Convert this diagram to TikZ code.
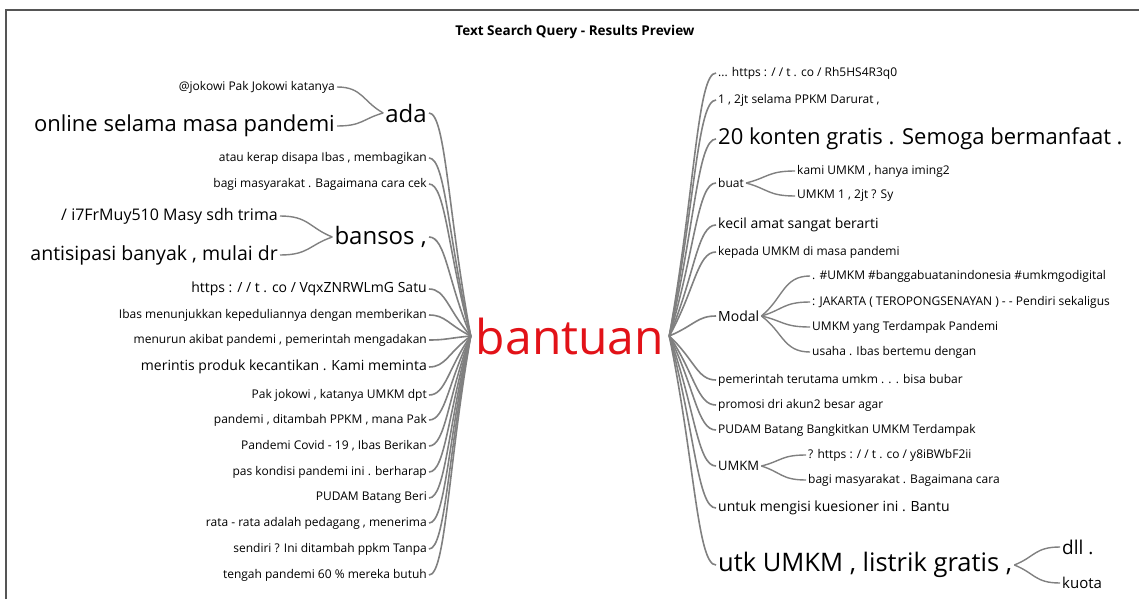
\documentclass[tikz,border=0pt]{standalone}
\usepackage{fontspec}
\setmainfont{Open Sans}
\usetikzlibrary{positioning,calc}
\definecolor{lgrey}{RGB}{128,128,128}
\definecolor{fgrey}{RGB}{85,85,85}
\definecolor{qred}{RGB}{226,18,24}
\tikzstyle{word} = [inner sep=2pt, text=black, font=\fontsize{12}{14}\selectfont]
\tikzstyle{midword} = [word, font=\fontsize{14}{16}\selectfont]
\tikzstyle{medword} = [word, font=\fontsize{16}{18}\selectfont]
\tikzstyle{bigword} = [word, font=\fontsize{22}{25}\selectfont]
\tikzstyle{hugeword} = [word, font=\fontsize{24}{27}\selectfont]
\tikzstyle{limb} = [draw=lgrey, line width=1.6pt,
    to path={.. controls ($(\tikztostart)!0.4!(\tikztostart -| \tikztotarget)$)
    and ($(\tikztotarget)!0.55!(\tikztostart)$) .. (\tikztotarget)}]
\tikzstyle{twig} = [draw=lgrey, line width=1.4pt,
    to path={.. controls ($(\tikztostart)!0.55!(\tikztostart -| \tikztotarget)$)
    and ($(\tikztotarget)!0.45!(\tikztostart)$) .. (\tikztotarget)}]

\begin{document}
\begin{tikzpicture}[x=1pt,y=-1pt]
\useasboundingbox (0,0) rectangle (1139,599);
\draw[fgrey, line width=1.5pt] (6,599) -- (6,10) -- (1139,10);
\node (title) at (575,32) [font=\bfseries\fontsize{13.5}{15}\selectfont] {Text Search Query - Results Preview};

\node (bantuan) at (570,336) [inner sep=5pt, text=qred, font=\fontsize{48}{52}\selectfont] {bantuan};

% left side
\node (ada) at (429,113) [hugeword, anchor=east] {ada};
\node (jokowi) at (337,87) [word, anchor=east] {@jokowi Pak Jokowi katanya};
\node (online) at (337,126) [bigword, anchor=east] {online selama masa pandemi};
\node (atau) at (429,158) [word, anchor=east] {atau kerap disapa Ibas , membagikan};
\node (cek) at (429,184) [word, anchor=east] {bagi masyarakat . Bagaimana cara cek};
\node (bansos) at (429,237) [hugeword, anchor=east] {bansos ,};
\node (trima) at (280,216) [medword, anchor=east] {/ i7FrMuy510 Masy sdh trima};
\node (mulai) at (280,255) [word, font=\fontsize{19.5}{22}\selectfont, anchor=east] {antisipasi banyak , mulai dr};
\node (satu) at (429,289) [midword, anchor=east] {https : / / t . co / VqxZNRWLmG Satu};
\node (ibas) at (429,315) [word, anchor=east] {Ibas menunjukkan kepeduliannya dengan memberikan};
\node (menurun) at (429,340) [word, anchor=east] {menurun akibat pandemi , pemerintah mengadakan};
\node (merintis) at (429,367) [midword, anchor=east] {merintis produk kecantikan . Kami meminta};
\node (pakjokowi) at (429,395) [word, anchor=east] {Pak jokowi , katanya UMKM dpt};
\node (ditambah) at (429,420) [word, anchor=east] {pandemi , ditambah PPKM , mana Pak};
\node (covid) at (429,446) [word, anchor=east] {Pandemi Covid - 19 , Ibas Berikan};
\node (berharap) at (429,472) [word, anchor=east] {pas kondisi pandemi ini . berharap};
\node (beri) at (429,498) [word, anchor=east] {PUDAM Batang Beri};
\node (rata) at (429,523) [word, anchor=east] {rata - rata adalah pedagang , menerima};
\node (sendiri) at (429,549) [word, anchor=east] {sendiri ? Ini ditambah ppkm Tanpa};
\node (tengah) at (429,575) [word, anchor=east] {tengah pandemi 60 \% mereka butuh};

% right side
\node (rh) at (716,73) [word, anchor=west] {... https : / / t . co / Rh5HS4R3q0};
\node (darurat) at (716,100) [word, anchor=west] {1 , 2jt selama PPKM Darurat ,};
\node (konten) at (716,139) [bigword, anchor=west] {20 konten gratis . Semoga bermanfaat .};
\node (buat) at (716,183) [word, anchor=west] {buat};
\node (iming) at (795,171) [word, anchor=west] {kami UMKM , hanya iming2};
\node (sy) at (795,196) [word, anchor=west] {UMKM 1 , 2jt ? Sy};
\node (kecil) at (716,225) [midword, anchor=west] {kecil amat sangat berarti};
\node (kepada) at (716,252) [word, anchor=west] {kepada UMKM di masa pandemi};
\node (modal) at (716,316) [midword, anchor=west] {Modal};
\node (digital) at (810,276) [word, anchor=west] {. \#UMKM \#banggabuatanindonesia \#umkmgodigital};
\node (jakarta) at (810,302) [word, anchor=west] {: JAKARTA ( TEROPONGSENAYAN ) - - Pendiri sekaligus};
\node (terdampak) at (810,327) [word, anchor=west] {UMKM yang Terdampak Pandemi};
\node (usaha) at (810,352) [word, anchor=west] {usaha . Ibas bertemu dengan};
\node (bubar) at (716,380) [word, anchor=west] {pemerintah terutama umkm . . . bisa bubar};
\node (promosi) at (716,405) [word, anchor=west] {promosi dri akun2 besar agar};
\node (bangkitkan) at (716,430) [word, anchor=west] {PUDAM Batang Bangkitkan UMKM Terdampak};
\node (umkm) at (716,466) [word, font=\fontsize{13}{15}\selectfont, anchor=west] {UMKM};
\node (y8) at (806,455) [word, anchor=west] {? https : / / t . co / y8iBWbF2ii};
\node (cara) at (806,480) [word, anchor=west] {bagi masyarakat . Bagaimana cara};
\node (bantu) at (716,508) [midword, anchor=west] {untuk mengisi kuesioner ini . Bantu};
\node (listrik) at (716,565) [word, font=\fontsize{25.5}{28}\selectfont, anchor=west] {utk UMKM , listrik gratis ,};
\node (dll) at (1060,547) [word, font=\fontsize{19}{21}\selectfont, anchor=west] {dll .};
\node (kuota) at (1060,583) [midword, font=\fontsize{15}{17}\selectfont, anchor=west] {kuota};

\draw[twig] (jokowi.east) to (ada.west);
\draw[twig] (online.east) to (ada.west);
\draw[twig] (trima.east) to (bansos.west);
\draw[twig] (mulai.east) to (bansos.west);
\draw[twig] (iming.west) to (buat.east);
\draw[twig] (sy.west) to (buat.east);
\draw[twig] (digital.west) to (modal.east);
\draw[twig] (jakarta.west) to (modal.east);
\draw[twig] (terdampak.west) to (modal.east);
\draw[twig] (usaha.west) to (modal.east);
\draw[twig] (y8.west) to (umkm.east);
\draw[twig] (cara.west) to (umkm.east);
\draw[twig] (dll.west) to (listrik.east);
\draw[twig] (kuota.west) to (listrik.east);

\draw[limb] (ada.east) to (bantuan.west);
\draw[limb] (atau.east) to (bantuan.west);
\draw[limb] (cek.east) to (bantuan.west);
\draw[limb] (bansos.east) to (bantuan.west);
\draw[limb] (satu.east) to (bantuan.west);
\draw[limb] (ibas.east) to (bantuan.west);
\draw[limb] (menurun.east) to (bantuan.west);
\draw[limb] (merintis.east) to (bantuan.west);
\draw[limb] (pakjokowi.east) to (bantuan.west);
\draw[limb] (ditambah.east) to (bantuan.west);
\draw[limb] (covid.east) to (bantuan.west);
\draw[limb] (berharap.east) to (bantuan.west);
\draw[limb] (beri.east) to (bantuan.west);
\draw[limb] (rata.east) to (bantuan.west);
\draw[limb] (sendiri.east) to (bantuan.west);
\draw[limb] (tengah.east) to (bantuan.west);

\draw[limb] (rh.west) to (bantuan.east);
\draw[limb] (darurat.west) to (bantuan.east);
\draw[limb] (konten.west) to (bantuan.east);
\draw[limb] (buat.west) to (bantuan.east);
\draw[limb] (kecil.west) to (bantuan.east);
\draw[limb] (kepada.west) to (bantuan.east);
\draw[limb] (modal.west) to (bantuan.east);
\draw[limb] (bubar.west) to (bantuan.east);
\draw[limb] (promosi.west) to (bantuan.east);
\draw[limb] (bangkitkan.west) to (bantuan.east);
\draw[limb] (umkm.west) to (bantuan.east);
\draw[limb] (bantu.west) to (bantuan.east);
\draw[limb] (listrik.west) to (bantuan.east);
\end{tikzpicture}
\end{document}
